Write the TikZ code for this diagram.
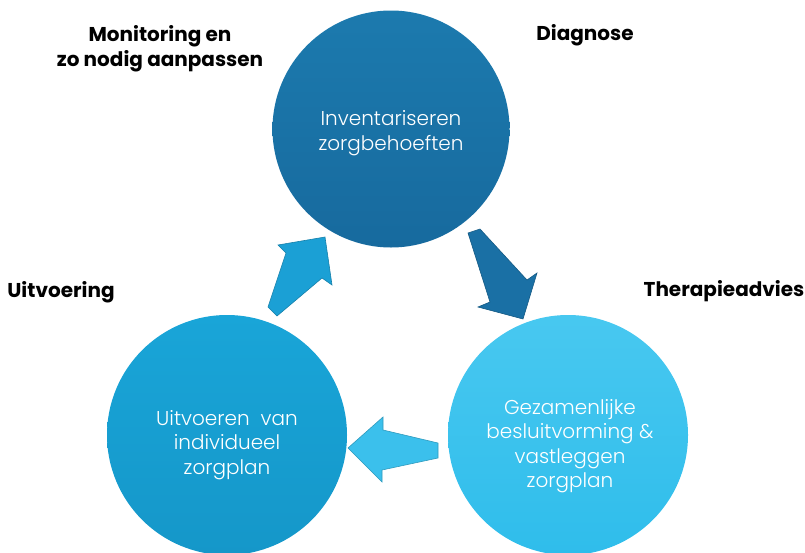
\documentclass[tikz,border=0pt]{standalone}
\usepackage{fontspec}
\setmainfont{Poppins}
\newfontfamily\lightfont{Poppins Light}
\definecolor{topc}{HTML}{1C7AAE}
\definecolor{topd}{HTML}{176A9E}
\definecolor{blc}{HTML}{19A5D8}
\definecolor{bld}{HTML}{1597C9}
\definecolor{brc}{HTML}{48C8F0}
\definecolor{brd}{HTML}{2FBDEB}
\definecolor{aone}{HTML}{1BA0D5}
\definecolor{atwo}{HTML}{1A70A5}
\definecolor{athree}{HTML}{3BC0EC}
\begin{document}
\begin{tikzpicture}[x=1pt,y=-1pt,
  circ/.style={circle,inner sep=0pt,shading=axis,shading angle=315},
  txt/.style={text=white,font=\lightfont\fontsize{20}{24.5}\selectfont,align=center,inner sep=0pt},
  lab/.style={font=\bfseries\fontsize{20}{25}\selectfont,align=center,inner sep=0pt},
  blockarrow/.style={draw=#1!80!black,line width=0.6pt,fill=#1}]
\useasboundingbox (0,0) rectangle (805,552);
\clip (0,0) rectangle (805,552);
% arrows
\filldraw[blockarrow=aone] (278,245)--(325,237)--(332,285)--(322,278)--(277,316)--(268,307)--(286,253)--cycle;
\filldraw[blockarrow=atwo] (468,233)--(480,229)--(527,280)--(537,273)--(523,319)--(478,307)--(490,302)--cycle;
\filldraw[blockarrow=athree] (348,448)--(383,417)--(383,430)--(438,443)--(438,458)--(382,470)--(382,482)--cycle;
% circles
\node[circ,minimum size=237pt,top color=topc,bottom color=topd] (inv) at (391,129) {};
\node[circ,minimum size=240pt,top color=blc,bottom color=bld] (uit) at (227,435) {};
\node[circ,minimum size=240pt,top color=brc,bottom color=brd] (gez) at (568,435) {};
\node[txt] (invt) at ([yshift=-4pt]inv.center) {Inventariseren\\zorgbehoeften};
\node[txt] (uitt) at ([yshift=-10pt]uit.center) {Uitvoeren\ \ van\\individueel\\zorgplan};
\node[txt] (gezt) at ([xshift=2pt,yshift=-11pt]gez.center) {Gezamenlijke\\besluitvorming \&\\vastleggen\\zorgplan};
% labels
\node[lab] (mon) at (160,49) {Monitoring en\\zo nodig aanpassen};
\node[lab] (dia) at (585,35) {Diagnose};
\node[lab] (uv) at (61,292) {Uitvoering};
\node[lab] (ther) at (724,291) {Therapieadvies};
\end{tikzpicture}
\end{document}
